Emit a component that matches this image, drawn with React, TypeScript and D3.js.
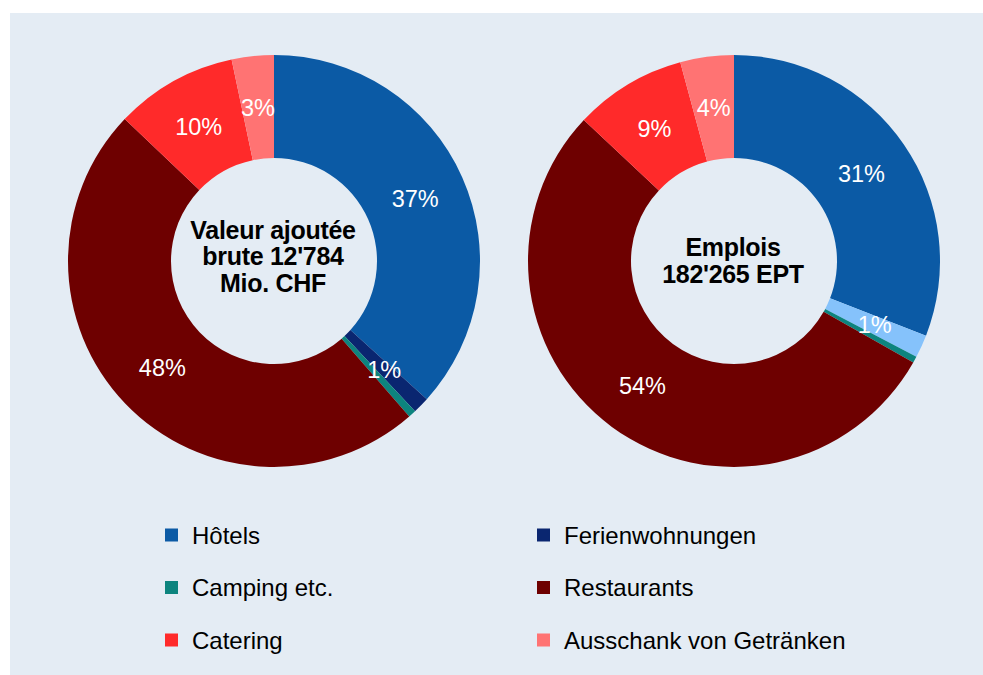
import React, { useEffect, useRef } from 'react';
import * as d3 from 'd3';

const svgWidth = 983;
const svgHeight = 675;

// categories and shares (percent of total)
const categories = [
  'Hôtels',
  'Ferienwohnungen',
  'Camping etc.',
  'Restaurants',
  'Catering',
  'Ausschank von Getränken',
];
const valeurShares = [36.7, 1.3, 0.6, 48.5, 9.6, 3.3];
const emploisShares = [30.9, 1.8, 0.5, 53.8, 8.8, 4.2];
const valeurLabels = ['37%', '1%', '', '48%', '10%', '3%'];
const emploisLabels = ['31%', '1%', '', '54%', '9%', '4%'];
const valeurTitle = ['Valeur ajoutée', "brute 12'784", 'Mio. CHF'];
const emploisTitle = ['Emplois', "182'265 EPT"];

const legendColors = ['#0b5aa5', '#0a2670', '#0d847e', '#6e0000', '#ff2a2a', '#ff7373'];
const emploisColors = ['#0b5aa5', '#85c2fb', '#0d847e', '#6e0000', '#ff2a2a', '#ff7373'];

const font = "'Liberation Sans', Arial, sans-serif";

const App: React.FC = () => {
  const svgRef = useRef<SVGSVGElement | null>(null);

  useEffect(() => {
    const svg = d3.select(svgRef.current);
    svg.selectAll('*').remove();

    // 背景
    svg
      .append('rect')
      .attr('x', 10)
      .attr('y', 13)
      .attr('width', svgWidth - 10)
      .attr('height', svgHeight - 13)
      .attr('fill', '#e4ecf4');

    const outerR = 206;
    const innerR = 103;

    const pie = d3
      .pie<number>()
      .sort(null)
      .value((d) => d);

    const arc = d3
      .arc<d3.PieArcDatum<number>>()
      .innerRadius(innerR)
      .outerRadius(outerR);

    const drawDonut = (
      cx: number,
      cy: number,
      values: number[],
      labels: string[],
      colors: string[],
      title: string[],
      titleBaselines: number[]
    ) => {
      const g = svg.append('g').attr('transform', `translate(${cx},${cy})`);
      const arcs = pie(values);

      g.selectAll('path')
        .data(arcs)
        .enter()
        .append('path')
        .attr('d', arc)
        .attr('fill', (_, i) => colors[i]);

      g.selectAll('text.pct')
        .data(arcs)
        .enter()
        .append('text')
        .attr('class', 'pct')
        .attr('x', (d) => arc.centroid(d)[0])
        .attr('y', (d) => arc.centroid(d)[1])
        .attr('dy', '0.36em')
        .attr('text-anchor', 'middle')
        .attr('fill', '#ffffff')
        .style('font-family', font)
        .style('font-size', '23.5px')
        .text((_, i) => labels[i]);

      g.selectAll('text.title')
        .data(title)
        .enter()
        .append('text')
        .attr('class', 'title')
        .attr('x', -1)
        .attr('y', (_, i) => titleBaselines[i])
        .attr('text-anchor', 'middle')
        .attr('fill', '#000000')
        .style('font-family', font)
        .style('font-size', '25px')
        .style('font-weight', 'bold')
        .style('letter-spacing', '-0.3px')
        .text((d) => d);
    };

    drawDonut(274, 261, valeurShares, valeurLabels, legendColors, valeurTitle, [-22, 4, 31]);
    drawDonut(734, 261, emploisShares, emploisLabels, emploisColors, emploisTitle, [-5, 21.5]);

    // 图例
    const legend = svg.append('g');
    const item = legend
      .selectAll('g')
      .data(categories)
      .enter()
      .append('g')
      .attr(
        'transform',
        (_, i) => `translate(${i % 2 === 0 ? 165 : 537},${535 + Math.floor(i / 2) * 52.5})`
      );

    item
      .append('rect')
      .attr('x', 0)
      .attr('y', -6.5)
      .attr('width', 13)
      .attr('height', 13)
      .attr('fill', (_, i) => legendColors[i]);

    item
      .append('text')
      .attr('x', 27)
      .attr('dy', '0.36em')
      .attr('fill', '#000000')
      .style('font-family', font)
      .style('font-size', '24px')
      .text((d) => d);
  }, []);

  return (
    <svg
      ref={svgRef}
      width={svgWidth}
      height={svgHeight}
      style={{ position: 'absolute', left: 0, top: 0, display: 'block' }}
    />
  );
};

export default App;
